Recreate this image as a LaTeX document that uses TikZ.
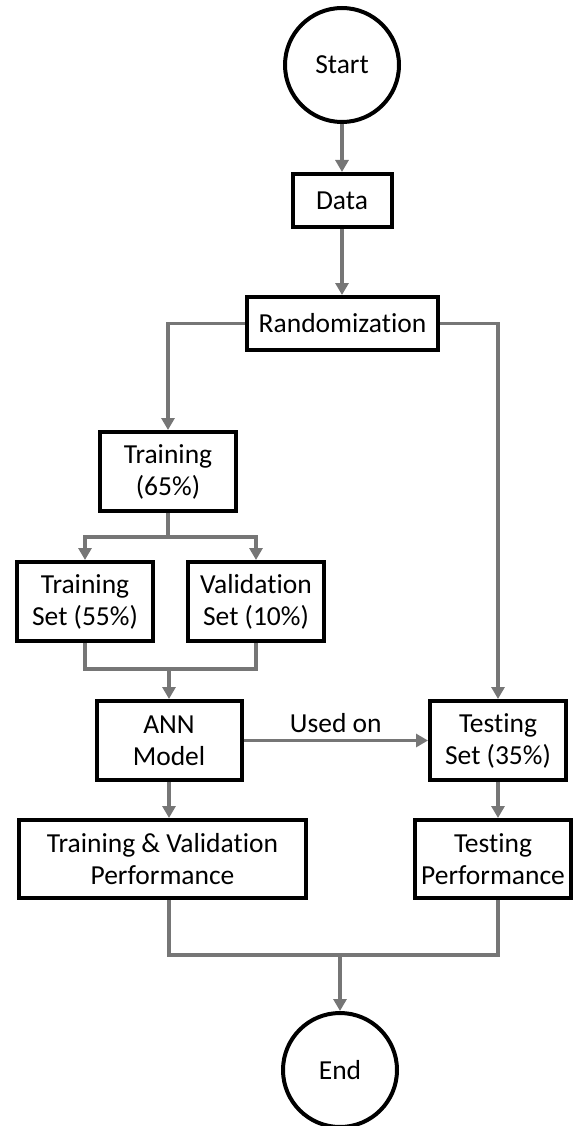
\documentclass[tikz,border=0pt]{standalone}
\usepackage{fontspec}
\setmainfont{Carlito}[Ligatures=NoCommon]
\usetikzlibrary{arrows.meta,calc}
\definecolor{conn}{RGB}{118,118,118}
\begin{document}
\begin{tikzpicture}[x=1pt,y=-1pt,
  every node/.style={font=\fontsize{27.5}{32}\selectfont, align=center, inner sep=0pt},
  box/.style={draw=black, line width=4pt, rectangle, fill=white},
  term/.style={draw=black, line width=4pt, circle, minimum size=114pt, fill=white},
  conn/.style={draw=conn, line width=3.8pt},
  arr/.style={conn, -{Triangle[length=12pt,width=13pt]}}]
\useasboundingbox (0,0) rectangle (575,1126);
\node[term] (start) at (342,65) {Start};
\node[box, minimum width=99pt, minimum height=53pt] (data) at (342,200.5) {Data};
\node[box, minimum width=191pt, minimum height=53pt] (rand) at (342.5,323.5) {Randomization};
\node[box, minimum width=136pt, minimum height=79pt] (train) at (168,471.5) {Training\\(65\%)};
\node[box, minimum width=136pt, minimum height=79pt] (tset) at (85,601.5) {Training\\Set (55\%)};
\node[box, minimum width=136pt, minimum height=79pt] (vset) at (256,601.5) {Validation\\Set (10\%)};
\node[box, minimum width=145pt, minimum height=79pt] (ann) at (169,740.5) {ANN\\Model};
\node[box, minimum width=136pt, minimum height=79pt] (test) at (498,740.5) {Testing\\Set (35\%)};
\node[box, minimum width=287pt, minimum height=78pt] (tvp) at (162.5,859) {Training \& Validation\\Performance};
\node[box, minimum width=156pt, minimum height=78pt] (tp) at (493,859) {Testing\\Performance};
\node[term] (end) at (340,1070) {End};
\coordinate (split) at (168,537);
\coordinate (merge) at (169,669);
\coordinate (fin) at (340,955);
\draw[arr] (start) -- (data);
\draw[arr] (data) -- (data |- rand.north);
\draw[arr] (rand.west) -| (train.north);
\draw[arr] (rand.east) -| (test.north);
\draw[conn] (train.south) -- (split);
\draw[arr] (split) -| (tset.north);
\draw[arr] (split) -| (vset.north);
\draw[conn] (tset.south) |- (merge);
\draw[conn] (vset.south) |- (merge);
\draw[arr] (merge) -- (merge |- ann.north);
\draw[arr] (ann.east) -- node[above=6pt] (usedon) {Used on} (test.west);
\draw[arr] (ann.south) -- (ann.south |- tvp.north);
\draw[arr] (test.south) -- (test.south |- tp.north);
\draw[conn] (tvp.south -| ann.south) |- (fin);
\draw[conn] (tp.south -| test.south) |- (fin);
\draw[arr] (fin) -- (end.north);
\end{tikzpicture}
\end{document}
